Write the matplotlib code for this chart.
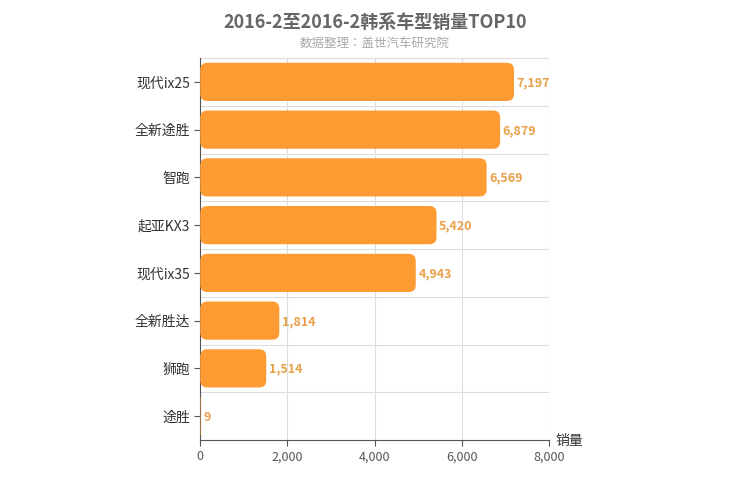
import matplotlib
matplotlib.use("Agg")
import matplotlib.pyplot as plt
from matplotlib.patches import FancyBboxPatch

plt.rcParams["font.family"] = ["Noto Sans CJK JP", "Noto Sans CJK SC",
                               "Noto Sans CJK TC", "Noto Sans CJK KR", "DejaVu Sans"]

models = ["现代ix25", "全新途胜", "智跑", "起亚KX3", "现代ix35", "全新胜达", "狮跑", "途胜"]
sales = [7197, 6879, 6569, 5420, 4943, 1814, 1514, 9]
xticks = [0, 2000, 4000, 6000, 8000]

BAR = "#ff9b33"
LABEL = "#e8a048"

fig = plt.figure(figsize=(7.5, 5), dpi=100)
ax = fig.add_axes([0.267, 0.12, 0.465, 0.764])
n = len(models)
ax.set_xlim(0, 8000)
ax.set_ylim(n - 0.5, -0.5)

# px -> data unit conversion for rounded corners
xu = 8000 / 349
yu = n / 382
h = 0.8
for i, v in enumerate(sales):
    if v <= 0:
        continue
    r = min(7 * xu, v / 2)
    p = FancyBboxPatch((0, i - h / 2), v, h,
                       boxstyle=f"round,pad=0,rounding_size={r}",
                       mutation_aspect=yu / xu, fc=BAR, ec="none", zorder=3)
    ax.add_patch(p)
    ax.text(v + 60, i + 0.02, f"{v:,}", va="center", ha="left",
            color=LABEL, fontsize=9, fontweight="bold", zorder=4)

ax.set_yticks(range(n), models, fontsize=10, color="#333333")
ax.set_xticks(xticks, [f"{t:,}" for t in xticks], fontsize=9, color="#555555")
for t in xticks[1:]:
    ax.axvline(t, color="#dddddd", lw=0.8, zorder=1)
for b in range(n):
    ax.axhline(b - 0.5, color="#dddddd", lw=0.8, zorder=1)
ax.tick_params(axis="y", length=4, color="#555555")
ax.tick_params(axis="x", length=4, color="#555555")
for s in ["top", "right"]:
    ax.spines[s].set_visible(False)
ax.spines["left"].set_color("#555555")
ax.spines["bottom"].set_color("#555555")

ax.text(1.02, -0.02, "销量", transform=ax.transAxes, fontsize=10,
        color="#333333", va="bottom")
fig.text(0.5, 0.955, "2016-2至2016-2韩系车型销量TOP10", ha="center",
         va="center", fontsize=13, fontweight="bold", color="#666666")
fig.text(0.5, 0.913, "数据整理：盖世汽车研究院", ha="center", va="center",
         fontsize=9, color="#aaaaaa")

fig.savefig("out.png", dpi=100)
